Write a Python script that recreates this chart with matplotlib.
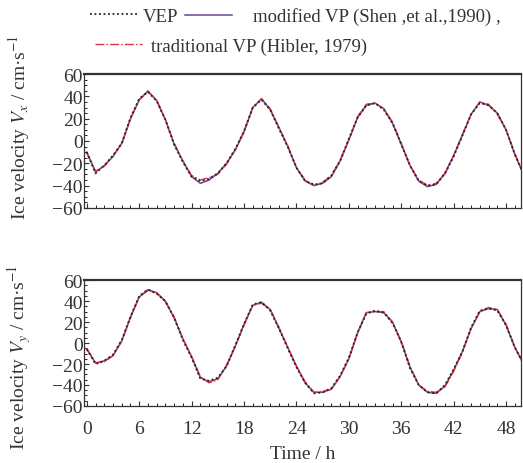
import numpy as np
import matplotlib
matplotlib.use("Agg")
import matplotlib.pyplot as plt
from matplotlib.ticker import MultipleLocator

plt.rcParams['font.family'] = ['Liberation Serif', 'DejaVu Serif']
plt.rcParams['mathtext.fontset'] = 'stix'

# time axis (hours)
hours = list(range(0, 51))

# Vx (cm/s), upper panel
vx_modified = [-10, -28, -22, -14, -2, 20, 37, 45, 36, 19,
               -3, -18, -32, -38, -35, -29, -20, -8, 8, 30,
               38, 28, 12, -5, -24, -36, -40, -38, -32, -18,
               1, 21, 32, 34, 29, 16, -3, -22, -36, -41,
               -39, -29, -13, 5, 24, 35, 32, 25, 10, -12, -30]
vx_vep = [-10, -29, -22, -13, -2, 21, 38, 44, 36, 19,
          -3, -19, -32, -36, -34, -29, -20, -7, 9, 30,
          37, 28, 11, -5, -24, -36, -39, -38, -31, -18,
          2, 21, 32, 34, 28, 16, -3, -22, -36, -40,
          -39, -29, -14, 5, 24, 34, 32, 25, 10, -12, -30]
vx_traditional = [-11, -27, -23, -13, -3, 20, 37, 44, 37, 19,
                  -2, -18, -31, -35, -33, -30, -21, -8, 9, 30,
                  38, 29, 12, -4, -24, -35, -40, -37, -31, -17,
                  1, 22, 33, 34, 29, 17, -2, -22, -35, -40,
                  -38, -30, -13, 6, 24, 35, 33, 24, 10, -11, -30]

# Vy (cm/s), lower panel
vy_modified = [-6, -19, -17, -12, 2, 25, 44, 51, 48, 40,
               24, 4, -13, -33, -37, -34, -22, -3, 18, 36,
               39, 32, 14, -4, -22, -38, -47, -47, -44, -32,
               -15, 10, 29, 30, 29, 20, 1, -23, -40, -47,
               -48, -41, -26, -8, 14, 30, 33, 32, 17, -4, -20]
vy_vep = [-6, -20, -17, -11, 3, 25, 45, 51, 47, 40,
          24, 3, -14, -34, -36, -33, -22, -2, 18, 37,
          39, 31, 14, -5, -23, -38, -48, -47, -43, -31,
          -14, 10, 28, 31, 29, 19, 1, -24, -40, -47,
          -48, -40, -25, -8, 15, 31, 33, 31, 17, -4, -20]
vy_traditional = [-5, -19, -18, -12, 2, 24, 44, 50, 48, 39,
                  25, 4, -13, -32, -38, -35, -21, -3, 17, 36,
                  38, 32, 15, -4, -22, -37, -47, -46, -44, -32,
                  -15, 9, 29, 30, 30, 20, 2, -22, -40, -46,
                  -47, -42, -27, -9, 14, 30, 34, 32, 18, -4, -19]

xticks = [0, 6, 12, 18, 24, 30, 36, 42, 48]
yticks = [-60, -40, -20, 0, 20, 40, 60]

c_mod = '#6a4592'
c_trad = '#e0343c'

fig = plt.figure(figsize=(5.23, 4.64), dpi=100)
ax1 = fig.add_axes([0.161, 0.550, 0.835, 0.288])
ax2 = fig.add_axes([0.161, 0.123, 0.835, 0.271])

panels = [(ax1, vx_modified, vx_vep, vx_traditional),
          (ax2, vy_modified, vy_vep, vy_traditional)]

for ax, mod, vep, trad in panels:
    l_mod, = ax.plot(hours, mod, color=c_mod, lw=1.1, ls='-',
                     label='modified VP (Shen ,et al.,1990) ,')
    l_trad, = ax.plot(hours, trad, color=c_trad, lw=1.0, ls='-.',
                      label='traditional VP (Hibler, 1979)')
    l_vep, = ax.plot(hours, vep, color='#222222', lw=1.3, ls=(0, (1, 1.5)),
                     label='VEP')
    ax.set_xlim(-0.3, 49.7)
    ax.set_ylim(-60, 60)
    ax.set_xticks(xticks)
    ax.set_yticks(yticks)
    ax.xaxis.set_minor_locator(MultipleLocator(1))
    ax.yaxis.set_minor_locator(MultipleLocator(5))
    ax.tick_params(which='major', direction='in', length=3.5, width=0.8,
                   labelsize=14, colors='#333333')
    ax.tick_params(which='minor', direction='in', length=2, width=0.6)
    ax.tick_params(axis='y', pad=1)
    ax.tick_params(axis='x', pad=10)
    for s in ax.spines.values():
        s.set_linewidth(0.9)
        s.set_color('#333333')
    ax.spines['top'].set_linewidth(1.6)

ax1.tick_params(axis='x', labelbottom=False)
ax2.set_xlabel('Time / h', fontsize=14, labelpad=6, color='#333333')

fig.text(0.036, 1 - 127 / 464, r'Ice velocity $V_x$ / cm·s$^{-1}$',
         rotation=90, ha='center', va='center', fontsize=14, color='#333333')
fig.text(0.036, 1 - 357 / 464, r'Ice velocity $V_y$ / cm·s$^{-1}$',
         rotation=90, ha='center', va='center', fontsize=14, color='#333333')

leg_kw = dict(frameon=False, fontsize=13.5, borderpad=0, borderaxespad=0,
              loc='center left', labelcolor='#333333')
fig.legend(handles=[l_vep], handlelength=2.6, handletextpad=0.2,
           bbox_to_anchor=(0.172, 0.963), **leg_kw)
fig.legend(handles=[l_mod], handlelength=2.5, handletextpad=1.1,
           bbox_to_anchor=(0.354, 0.963), **leg_kw)
fig.legend(handles=[l_trad], handlelength=2.5, handletextpad=0.5,
           bbox_to_anchor=(0.182, 0.899), **leg_kw)

fig.savefig('out.png', dpi=100)
